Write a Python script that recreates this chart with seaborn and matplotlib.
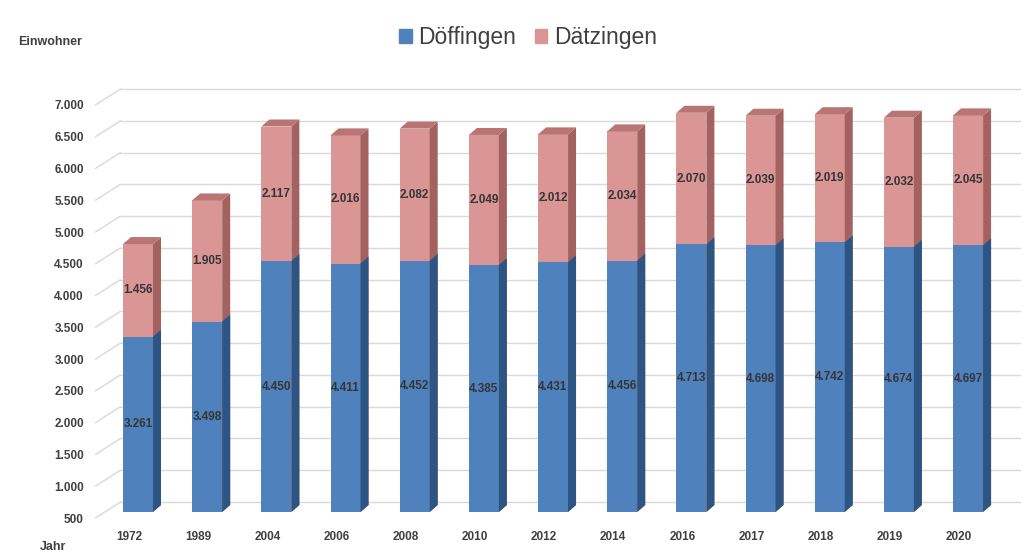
import numpy as np
import pandas as pd
import matplotlib
matplotlib.use("Agg")
import matplotlib.pyplot as plt
import seaborn as sns
from matplotlib.patches import Polygon, Patch
from matplotlib.lines import Line2D
from matplotlib.transforms import ScaledTranslation

# data
years = ["1972", "1989", "2004", "2006", "2008", "2010", "2012",
         "2014", "2016", "2017", "2018", "2019", "2020"]
doeffingen = [3261, 3498, 4450, 4411, 4452, 4385, 4431, 4456, 4713, 4698, 4742, 4674, 4697]
daetzingen = [1456, 1905, 2117, 2016, 2082, 2049, 2012, 2034, 2070, 2039, 2019, 2032, 2045]
y_ticks = list(range(500, 7001, 500))

blue, blue_side = "#4f81bd", "#2d5584"
red, red_side, red_top = "#d99694", "#a3625f", "#b97573"
txt = "#404040"

sns.set_theme(style="white")
plt.rcParams['font.family'] = ['Liberation Sans', 'DejaVu Sans']

df = pd.DataFrame({"Jahr": years, "Döffingen": doeffingen, "Dätzingen": daetzingen})
df["Summe"] = df["Döffingen"] + df["Dätzingen"]

fig = plt.figure(figsize=(10.31, 5.54), dpi=100)
ax = fig.add_axes([0.1003, 0.0758, 0.8722, 0.7455])
ax.set_facecolor("none")

bw = 0.434
sns.barplot(data=df, x="Jahr", y="Summe", color=red, saturation=1, width=bw, ax=ax)
n = len(years)
red_bars = list(ax.patches[:n])
sns.barplot(data=df, x="Jahr", y="Döffingen", color=blue, saturation=1, width=bw, ax=ax)
blue_bars = list(ax.patches[n:2 * n])
ax.set_xlim(-0.5, n - 0.5)
ax.set_ylim(500, 7000)

# 3d depth in data units (about 8 px right, 7 px up)
dx = 8 / 69.17
dy = 7 * 6500 / 413

for p in red_bars:
    p.set_zorder(2)
    p.set_linewidth(0)
    x0, x1, t = p.get_x(), p.get_x() + p.get_width(), p.get_height()
    ax.add_patch(Polygon([(x1, 500), (x1 + dx, 500 + dy), (x1 + dx, t + dy), (x1, t)],
                         closed=True, fc=red_side, ec="none", zorder=2.1))
    ax.add_patch(Polygon([(x0, t), (x1, t), (x1 + dx, t + dy), (x0 + dx, t + dy)],
                         closed=True, fc=red_top, ec="none", zorder=2.1, clip_on=False))
for p in blue_bars:
    p.set_zorder(3)
    p.set_linewidth(0)
    x1, b = p.get_x() + p.get_width(), p.get_height()
    ax.add_patch(Polygon([(x1, 500), (x1 + dx, 500 + dy), (x1 + dx, b + dy), (x1, b)],
                         closed=True, fc=blue_side, ec="none", zorder=3.1))

# value labels
for i in range(n):
    b = doeffingen[i]
    t = b + daetzingen[i]
    ax.text(i, (500 + b) / 2, f"{b:,}".replace(",", "."), ha="center", va="center",
            fontsize=8.5, fontweight="bold", color="#353535", zorder=5)
    ax.text(i, (b + t) / 2, f"{daetzingen[i]:,}".replace(",", "."), ha="center", va="center",
            fontsize=8.5, fontweight="bold", color="#353535", zorder=5)

# back wall grid + side wall lines
back = ScaledTranslation(17 / 100, 10 / 100, fig.dpi_scale_trans)
for v in y_ticks:
    ax.plot([0, 1], [v, v], transform=ax.get_yaxis_transform() + back,
            color="#d9d9d9", lw=1, zorder=0, clip_on=False)
    fx, fy = ax.transData.transform((-0.5, v))
    pts = fig.transFigure.inverted().transform([(fx - 8, fy - 6), (fx + 17, fy + 10)])
    fig.add_artist(Line2D(pts[:, 0], pts[:, 1], color="#d9d9d9", lw=1, zorder=0))

ax.set_yticks(y_ticks)
ax.set_yticklabels([f"{v:,}".replace(",", ".") for v in y_ticks])
ax.tick_params(axis="y", length=0, pad=14, labelsize=8.5, labelcolor=txt)
ax.tick_params(axis="x", length=0, pad=14, labelsize=8.5, labelcolor=txt)
ax.set_xlabel("")
ax.set_ylabel("")
for s in ax.spines.values():
    s.set_visible(False)
ax.grid(False)

front_y = ScaledTranslation(0, -6 / 100, fig.dpi_scale_trans)
front_x = ScaledTranslation(-9 / 100, 0, fig.dpi_scale_trans)
for lbl in ax.get_yticklabels():
    lbl.set_fontweight("bold")
    lbl.set_transform(lbl.get_transform() + front_y)
for lbl in ax.get_xticklabels():
    lbl.set_fontweight("bold")
    lbl.set_transform(lbl.get_transform() + front_x)

fig.text(18 / 1031, 1 - 42 / 554, "Einwohner", fontsize=9, fontweight="bold", color=txt,
         va="center", ha="left")
fig.text(40 / 1031, 1 - 547 / 554, "Jahr", fontsize=9, fontweight="bold", color=txt,
         va="center", ha="left")

handles = [Patch(color=blue, label="Döffingen"), Patch(color=red, label="Dätzingen")]
fig.legend(handles=handles, loc="center", bbox_to_anchor=(528 / 1031, 1 - 38 / 554), ncol=2,
           frameon=False, fontsize=16.5, handlelength=0.55, handleheight=0.55,
           handletextpad=0.3, columnspacing=0.8, labelcolor=txt)

fig.savefig("out.png", dpi=100, facecolor="white")
